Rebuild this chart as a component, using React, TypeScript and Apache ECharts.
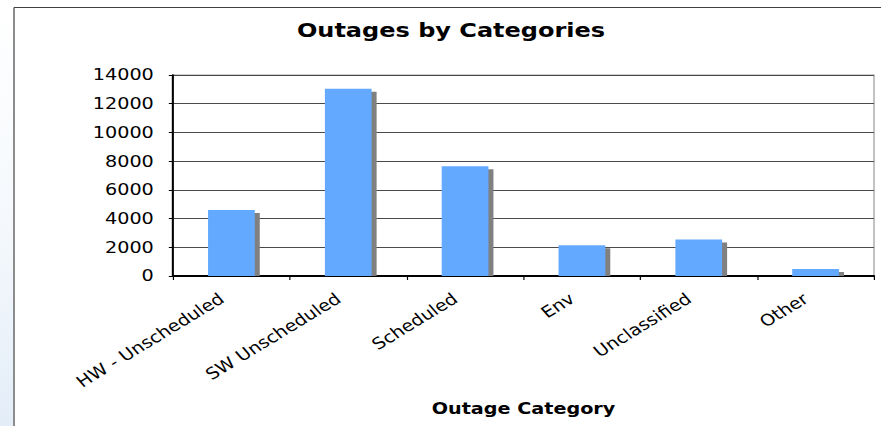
import React, { useEffect, useRef } from "react";
import * as echarts from "echarts";

// Outage counts per category
const categories = ["HW - Unscheduled", "SW Unscheduled", "Scheduled", "Env", "Unclassified", "Other"];
const outages = [4600, 13050, 7650, 2150, 2550, 480];
const yMin = 0;
const yMax = 14000;
const yStep = 2000;
const chartTitle = "Outages by Categories";
const xAxisTitle = "Outage Category";

// The chart is drawn on a narrower canvas and widened horizontally,
// giving the broad, stretched lettering of the original sheet chart.
const PAGE_W = 881;
const PAGE_H = 426;
const CHART_W = 734;
const STRETCH = PAGE_W / CHART_W;
const sx = (px: number) => px / STRETCH;

const FONT = "Verdana, 'DejaVu Sans', sans-serif";
const BAR_COLOR = "#63a9ff";
const SHADOW_COLOR = "#808080";
const BAR_RATIO = 0.4;
const SHADOW_DX = sx(5);
const SHADOW_DY = 3;

// Bar with a hard drop shadow that stops at the zero line
function renderBar(_params: any, api: any) {
  const idx = api.value(0);
  const val = api.value(1);
  const top = api.coord([idx, val]);
  const base = api.coord([idx, 0]);
  const w = api.size([1, 0])[0] * BAR_RATIO;
  const x = top[0] - w / 2;
  const h = base[1] - top[1];
  return {
    type: "group",
    children: [
      {
        type: "rect",
        shape: { x: x + SHADOW_DX, y: top[1] + SHADOW_DY, width: w, height: Math.max(0, h - SHADOW_DY) },
        style: { fill: SHADOW_COLOR },
      },
      {
        type: "rect",
        shape: { x, y: top[1], width: w, height: h },
        style: { fill: BAR_COLOR },
      },
    ],
  };
}

export default function App() {
  const ref = useRef<HTMLDivElement>(null);

  useEffect(() => {
    if (!ref.current) return;
    const chart = echarts.init(ref.current, undefined, { renderer: "svg" });
    chart.setOption({
      animation: false,
      backgroundColor: "#ffffff",
      grid: {
        left: sx(173),
        right: CHART_W - sx(874),
        top: 75,
        bottom: PAGE_H - 276,
        show: true,
        borderColor: "#9a9a9a",
        borderWidth: 1,
        containLabel: false,
        outerBoundsMode: "none",
      },
      xAxis: {
        type: "category",
        data: categories,
        name: xAxisTitle,
        nameLocation: "middle",
        nameGap: 125,
        nameTextStyle: { fontSize: 16, fontWeight: "bold", color: "#000", fontFamily: FONT },
        axisLine: { show: true, lineStyle: { color: "#000", width: 2 } },
        axisTick: { show: true, length: 4, lineStyle: { color: "#000", width: 1 } },
        axisLabel: {
          interval: 0,
          rotate: 36,
          margin: 15,
          padding: [0, 10, 0, 0],
          fontSize: 16,
          color: "#000",
          fontFamily: FONT,
        },
        splitLine: { show: false },
      },
      yAxis: {
        type: "value",
        min: yMin,
        max: yMax,
        interval: yStep,
        axisLine: { show: true, lineStyle: { color: "#000", width: 1.7 } },
        axisTick: { show: true, length: 3.5, lineStyle: { color: "#000", width: 1 } },
        axisLabel: {
          margin: 16,
          fontSize: 16,
          color: "#000",
          fontFamily: FONT,
          formatter: (v: number) => String(v),
        },
        splitLine: { show: true, lineStyle: { color: "#4a4a4a", width: 1 } },
      },
      series: [
        {
          type: "custom",
          name: "Outages",
          data: outages.map((v, i) => [i, v]),
          encode: { x: 0, y: 1 },
          renderItem: renderBar,
        },
      ],
      graphic: [
        {
          type: "rect",
          silent: true,
          z: -10,
          shape: { x: 0, y: 0, width: sx(13), height: PAGE_H },
          style: {
            fill: new echarts.graphic.LinearGradient(0, 0, 0, 1, [
              { offset: 0, color: "#ffffff" },
              { offset: 0.55, color: "#f4f8fc" },
              { offset: 1, color: "#e3edf8" },
            ]),
          },
        },
        {
          type: "line",
          silent: true,
          shape: { x1: sx(14), y1: 7.5, x2: CHART_W, y2: 7.5 },
          style: { stroke: "#404040", lineWidth: 1 },
        },
        {
          type: "line",
          silent: true,
          shape: { x1: sx(14), y1: 7.5, x2: sx(14), y2: PAGE_H },
          style: { stroke: "#404040", lineWidth: 1 },
        },
        {
          type: "text",
          x: sx(451),
          y: 20,
          style: {
            text: chartTitle,
            fill: "#000",
            font: `bold 20px ${FONT}`,
            align: "center",
            textAlign: "center",
            verticalAlign: "top",
            textVerticalAlign: "top",
          },
        },
      ],
    });
    return () => chart.dispose();
  }, []);

  return (
    <div
      ref={ref}
      style={{
        position: "fixed",
        left: 0,
        top: 0,
        width: CHART_W,
        height: PAGE_H,
        transform: `scaleX(${STRETCH})`,
        transformOrigin: "0 0",
        background: "#ffffff",
      }}
    />
  );
}
